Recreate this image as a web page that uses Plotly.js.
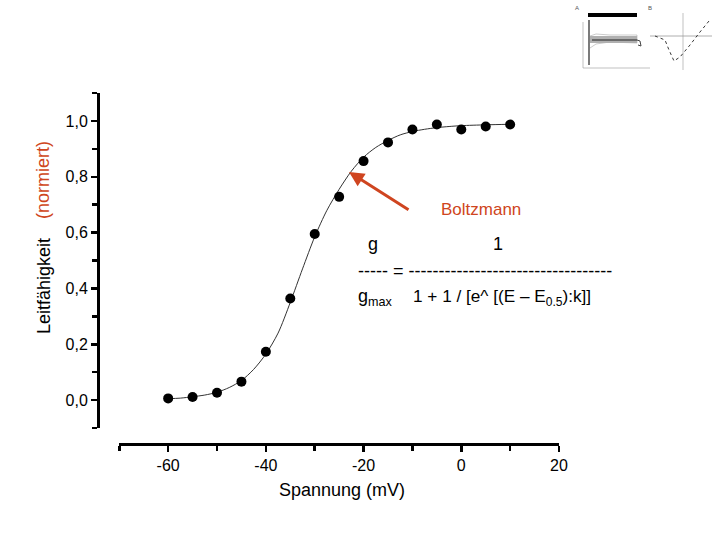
<!DOCTYPE html>
<html>
<head>
<meta charset="utf-8">
<script src="https://cdn.plot.ly/plotly-3.0.1.min.js"></script>
<style>html,body{margin:0;padding:0;background:#fff;}#chart{width:720px;height:540px;}</style>
</head>
<body>
<div id="chart"></div>
<script>
// ---- data ----
const voltage = [-60, -55, -50, -45, -40, -35, -30, -25, -20, -15, -10, -5, 0, 5, 10];
const conductance = [0.006, 0.011, 0.026, 0.066, 0.173, 0.364, 0.595, 0.728, 0.856, 0.923, 0.969, 0.987, 0.969, 0.980, 0.987];
const fitVoltage = [-60, -57.5, -55, -52.5, -50, -47.5, -45, -42.5, -40, -37.5, -35, -32.5, -30, -27.5, -25, -22.5, -20, -17.5, -15, -12.5, -10, -7.5, -5, -2.5, 0, 5, 10];
const fitConductance = [0.005, 0.007, 0.012, 0.018, 0.028, 0.045, 0.07, 0.11, 0.165, 0.24, 0.35, 0.47, 0.585, 0.68, 0.755, 0.82, 0.87, 0.905, 0.93, 0.95, 0.962, 0.97, 0.976, 0.98, 0.983, 0.986, 0.988];
const xTickVals = [-60, -40, -20, 0, 20];
const xTickText = ['-60', '-40', '-20', '0', '20'];
const yTickVals = [0, 0.2, 0.4, 0.6, 0.8, 1.0];
const yTickText = ['0,0', '0,2', '0,4', '0,6', '0,8', '1,0'];

// ---- layout geometry ----
const W = 720, H = 540;
const M = {l: 98, r: 161, t: 93, b: 96};
const PW = W - M.l - M.r, PH = H - M.t - M.b;
function px(x) { return (x - M.l) / PW; }
function py(y) { return (H - M.b - y) / PH; }

const RED = '#cf4520';
const FONT = 'Liberation Sans, Arial, sans-serif';

const traces = [
  {x: fitVoltage, y: fitConductance, mode: 'lines', type: 'scatter',
   line: {color: '#333', width: 1, shape: 'spline', smoothing: 0.8}, hoverinfo: 'skip'},
  {x: voltage, y: conductance, mode: 'markers', type: 'scatter',
   marker: {color: '#000', size: 10, symbol: 'circle'}}
];

function ann(text, x, y, opts) {
  return Object.assign({text: text, xref: 'paper', yref: 'paper', x: px(x), y: py(y),
    showarrow: false, xanchor: 'center', yanchor: 'middle',
    font: {family: FONT, size: 18, color: '#000'}}, opts || {});
}

const dashes = '-'.repeat(34);
const annotations = [
  ann('Leitfähigkeit', 44, 286, {textangle: -90}),
  ann('(normiert)', 43, 180, {textangle: -90, font: {family: FONT, size: 18, color: RED}}),
  ann('Spannung (mV)', 342, 490),
  ann('Boltzmann', 481, 209, {font: {family: FONT, size: 17, color: RED}}),
  ann('g', 373, 244),
  ann('1', 498, 244),
  ann('----- = ' + dashes, 356, 271, {xanchor: 'left'}),
  ann('g<sub>max</sub>', 356, 297, {xanchor: 'left'}),
  ann('1 + 1 / [e^ [(E – E<sub>0.5</sub>):k]]', 411, 297, {xanchor: 'left', font: {family: FONT, size: 17.2, color: '#000'}}),
  // arrow to the fit curve
  {xref: 'paper', yref: 'paper', x: px(349), y: py(172), ax: px(412), ay: py(212),
   axref: 'paper', ayref: 'paper', text: ' ', showarrow: true, arrowhead: 2,
   arrowsize: 1, arrowwidth: 3, arrowcolor: RED},
  // thumbnail labels
  ann('A', 577, 8, {font: {family: FONT, size: 6, color: '#555'}}),
  ann('B', 650, 8, {font: {family: FONT, size: 6, color: '#555'}})
];

// small inset figure in the top-right corner (decorative)
function rect(x0, y0, x1, y1, fill, line) {
  return {type: 'rect', xref: 'paper', yref: 'paper', x0: px(x0), x1: px(x1), y0: py(y1), y1: py(y0),
    fillcolor: fill, line: line || {width: 0}};
}
function seg(x0, y0, x1, y1, color, width, dash) {
  return {type: 'line', xref: 'paper', yref: 'paper', x0: px(x0), x1: px(x1), y0: py(y0), y1: py(y1),
    line: {color: color, width: width, dash: dash || 'solid'}};
}
function path(pts, color, width, dash) {
  let d = pts.map((p, i) => (i ? 'L' : 'M') + px(p[0]) + ',' + py(p[1])).join(' ');
  return {type: 'path', xref: 'paper', yref: 'paper', path: d, line: {color: color, width: width, dash: dash || 'solid'}};
}
const shapes = [
  rect(588, 13, 637, 17, '#000'),
  seg(583, 22, 583, 68, '#999', 0.6),
  seg(583, 68, 650, 68, '#999', 0.6),
  path([[590,36],[596,34],[610,35],[637,35],[637,43],[610,42],[596,44],[590,48]], '#999', 0.5),
  rect(590, 36, 637, 43, '#b0b0b0'),
  seg(592, 40, 637, 40, '#222', 1.2),
  seg(589, 20, 589, 65, '#222', 1.2),
  path([[637,40],[640,41],[641,46],[638,45]], '#444', 1),
  seg(650, 36, 712, 36, '#999', 0.8),
  seg(683, 13, 683, 70, '#999', 0.6),
  path([[655,36],[665,40],[669,50],[674,61],[680,57],[690,45],[700,32],[709,21]], '#222', 0.9, 'dot')
];

const layout = {
  width: W, height: H,
  margin: M,
  paper_bgcolor: '#fff', plot_bgcolor: '#fff',
  showlegend: false,
  separators: ',.',
  font: {family: FONT, size: 16, color: '#000'},
  xaxis: {
    domain: [px(119.3), 1], range: [-70, 20], anchor: 'free', position: 0,
    showgrid: false, zeroline: false, showline: true, linecolor: '#000', linewidth: 2.5,
    tickmode: 'array', tickvals: xTickVals, ticktext: xTickText,
    ticks: 'outside', ticklen: 6, tickwidth: 2.5, tickcolor: '#000',
    minor: {tickmode: 'linear', tick0: -70, dtick: 10, ticks: 'outside', ticklen: 5, tickwidth: 2.5, tickcolor: '#000', showgrid: false},
    tickfont: {family: FONT, size: 16, color: '#000'}
  },
  yaxis: {
    domain: [py(428), 1], range: [-0.1, 1.1], anchor: 'free', position: 0,
    showgrid: false, zeroline: false, showline: true, linecolor: '#000', linewidth: 2.5,
    tickmode: 'array', tickvals: yTickVals, ticktext: yTickText,
    ticks: 'outside', ticklen: 6, tickwidth: 2.5, tickcolor: '#000',
    minor: {tickmode: 'linear', tick0: -0.1, dtick: 0.1, ticks: 'outside', ticklen: 5, tickwidth: 2.5, tickcolor: '#000', showgrid: false},
    tickfont: {family: FONT, size: 16, color: '#000'}
  },
  annotations: annotations,
  shapes: shapes
};

Plotly.newPlot('chart', traces, layout, {displayModeBar: false, staticPlot: true});
</script>
</body>
</html>
